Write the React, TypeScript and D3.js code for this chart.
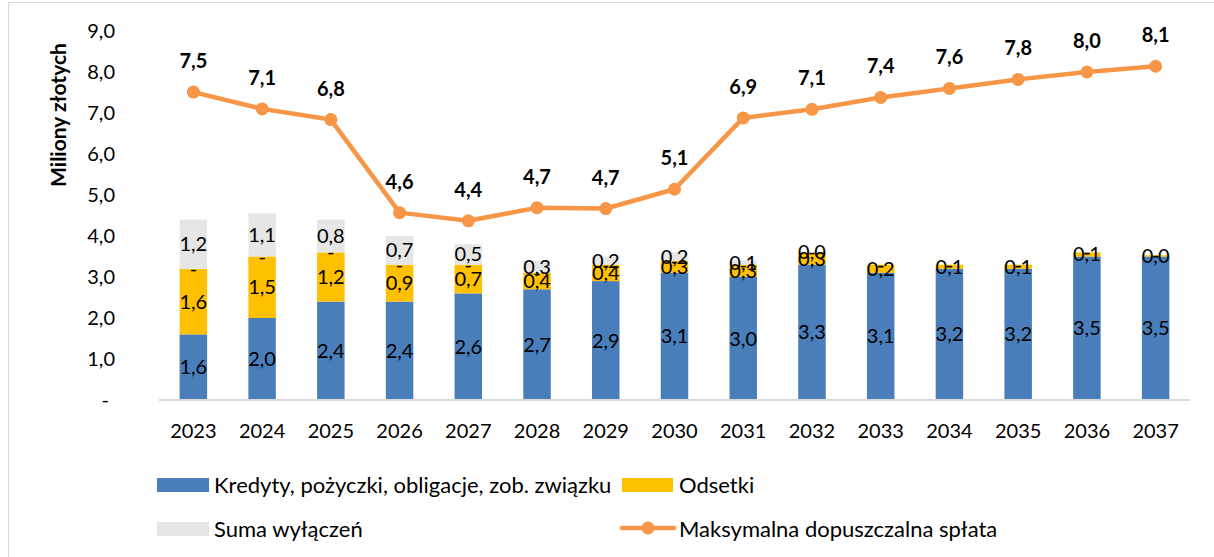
import React from "react";
import * as d3 from "d3";

const years = ["2023","2024","2025","2026","2027","2028","2029","2030","2031","2032","2033","2034","2035","2036","2037"];
const kredyty = [1.6, 2.0, 2.4, 2.4, 2.6, 2.7, 2.9, 3.1, 3.0, 3.3, 3.1, 3.2, 3.2, 3.5, 3.5];
const odsetki = [1.6, 1.5, 1.2, 0.9, 0.7, 0.4, 0.4, 0.3, 0.3, 0.3, 0.2, 0.1, 0.1, 0.1, 0.03];
// zero-valued series (not in legend) shown with "-" labels
const pozostale = [0, 0, 0, 0, 0, 0, 0, 0, 0, 0, 0, 0, 0, 0, 0];
const sumaWylaczen = [1.2, 1.05, 0.8, 0.7, 0.5, 0.3, 0.2, 0.2, 0.1, 0.02, 0, 0, 0, 0, 0];
const maksymalna = [7.51, 7.10, 6.84, 4.57, 4.37, 4.69, 4.67, 5.14, 6.88, 7.09, 7.38, 7.60, 7.82, 8.00, 8.14];
const yTicks = [0, 1, 2, 3, 4, 5, 6, 7, 8, 9];

const FONT = "Lato, 'Noto Sans', sans-serif";
const BLUE = "#4A7EBB";
const YELLOW = "#FFC000";
const GRAY = "#E7E6E6";
const ORANGE = "#F79646";

const fmt = (v: number) => (v === 0 ? "-" : v.toFixed(1).replace(".", ","));

export default function App() {
  const x = d3.scaleBand<string>().domain(years).range([159, 1190]).paddingInner(0.6).paddingOuter(0.3);
  const y = d3.scaleLinear().domain([0, 9]).range([400, 31]);
  const bw = x.bandwidth();
  const cx = (yr: string) => (x(yr) as number) + bw / 2;

  const series = [
    { name: "kred", vals: kredyty, color: BLUE },
    { name: "ods", vals: odsetki, color: YELLOW },
    { name: "poz", vals: pozostale, color: "none" },
    { name: "suma", vals: sumaWylaczen, color: GRAY },
  ];
  const rows = years.map((yr, i) => {
    const o: any = { year: yr };
    series.forEach((s) => (o[s.name] = s.vals[i]));
    return o;
  });
  const stacked = d3.stack<any>().keys(series.map((s) => s.name))(rows);

  const line = d3
    .line<number>()
    .x((_, i) => cx(years[i]))
    .y((d) => y(d));

  return (
    <svg width={1214} height={557} style={{ position: "absolute", left: 0, top: 0, background: "#fff" }} fontFamily={FONT}>
      <rect x={8.5} y={2.5} width={1220} height={570} fill="#fff" stroke="#D9D9D9" strokeWidth={1} />
      {/* y axis title */}
      <text
        transform="translate(57,115) rotate(-90)"
        textAnchor="middle"
        dominantBaseline="central"
        fontSize={21}
        fontWeight="bold"
        fill="#000"
      >
        Miliony złotych
      </text>
      {/* y tick labels */}
      {yTicks.map((t) => (
        <text key={t} x={t === 0 ? 109 : 115} y={y(t)} dy="0.35em" textAnchor="end" fontSize={20} fill="#000">
          {t === 0 ? "-" : t.toFixed(1).replace(".", ",")}
        </text>
      ))}
      {/* bars */}
      {stacked.map((layer, si) =>
        series[si].color === "none"
          ? null
          : layer.map((d, i) => (
              <rect
                key={series[si].name + i}
                x={x(years[i])}
                y={y(d[1])}
                width={bw}
                height={Math.max(0, y(d[0]) - y(d[1]))}
                fill={series[si].color}
              />
            ))
      )}
      {/* axis line */}
      <line x1={159} x2={1190} y1={400} y2={400} stroke="#D9D9D9" strokeWidth={2} />
      {/* bar labels */}
      {stacked.map((layer, si) =>
        layer.map((d, i) => {
          const v = series[si].vals[i];
          return (
            <text
              key={"l" + series[si].name + i}
              x={cx(years[i])}
              y={(y(d[0]) + y(d[1])) / 2}
              dy="0.35em"
              textAnchor="middle"
              fontSize={20}
              fill="#000"
            >
              {fmt(v)}
            </text>
          );
        })
      )}
      {/* line */}
      <path d={line(maksymalna) || ""} fill="none" stroke={ORANGE} strokeWidth={4.5} strokeLinejoin="round" />
      {maksymalna.map((v, i) => (
        <circle key={"c" + i} cx={cx(years[i])} cy={y(v)} r={6.5} fill={ORANGE} />
      ))}
      {maksymalna.map((v, i) => (
        <text key={"m" + i} x={cx(years[i])} y={y(v) - 24} textAnchor="middle" fontSize={20} fontWeight="bold" fill="#000">
          {v.toFixed(1).replace(".", ",")}
        </text>
      ))}
      {/* x labels */}
      {years.map((yr) => (
        <text key={"x" + yr} x={cx(yr)} y={438} textAnchor="middle" fontSize={20} fill="#000">
          {yr}
        </text>
      ))}
      {/* legend */}
      <rect x={157} y={478} width={52} height={14} fill={BLUE} />
      <text x={214} y={493} fontSize={22} fill="#000">Kredyty, pożyczki, obligacje, zob. związku</text>
      <rect x={622} y={478} width={51} height={14} fill={YELLOW} />
      <text x={679} y={493} fontSize={22} fill="#000">Odsetki</text>
      <rect x={157} y={522} width={52} height={14} fill={GRAY} />
      <text x={214} y={537} fontSize={22} fill="#000">Suma wyłączeń</text>
      <line x1={622} x2={674} y1={528} y2={528} stroke={ORANGE} strokeWidth={4.5} strokeLinecap="round" />
      <circle cx={648} cy={528} r={6.5} fill={ORANGE} />
      <text x={679} y={537} fontSize={22} fill="#000">Maksymalna dopuszczalna spłata</text>
    </svg>
  );
}
